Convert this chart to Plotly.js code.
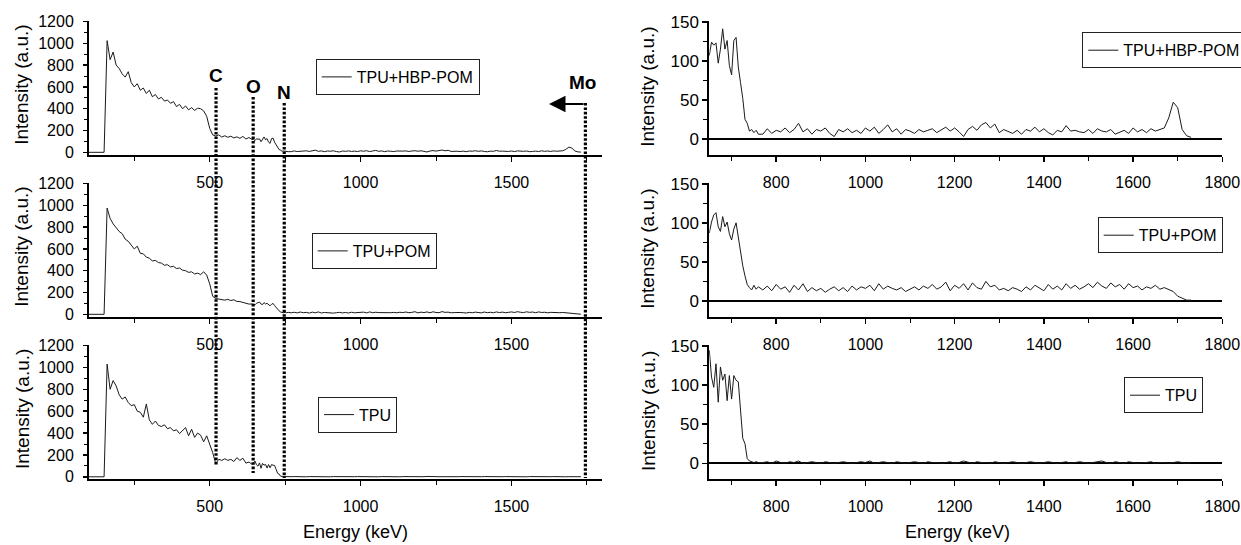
<!DOCTYPE html>
<html><head><meta charset="utf-8">
<script src="https://cdn.plot.ly/plotly-3.0.1.min.js"></script>
<style>html,body{margin:0;padding:0;background:#fff}#chart{width:1241px;height:545px}</style>
</head><body><div id="chart"></div>
<script>
// ---------- DATA (energy in keV, intensity in a.u.) ----------
const E_lo = [100,110,120,130,140,150,160,170,180,190,200,210,220,230,240,250,260,270,280,290,300,310,320,330,340,350,360,370,380,390,400,410,420,430,440,450,460,470,480,490,500,510,520,530,540,550,560,570,580,590,600,610,620,630,640];
const E_mid = [645,650,655,660,665,670,675,680,685,690,695,700,705,710,715,720,725,730,735,740,745,750,755,760];
const E_hi = [770,780,790,800,810,820,830,840,850,860,870,880,890,900,910,920,930,940,950,960,970,980,990,1000,1010,1020,1030,1040,1050,1060,1070,1080,1090,1100,1110,1120,1130,1140,1150,1160,1170,1180,1190,1200,1210,1220,1230,1240,1250,1260,1270,1280,1290,1300,1310,1320,1330,1340,1350,1360,1370,1380,1390,1400,1410,1420,1430,1440,1450,1460,1470,1480,1490,1500,1510,1520,1530,1540,1550,1560,1570,1580,1590,1600,1610,1620,1630,1640,1650,1660,1670,1680,1690,1700,1710,1720,1730];

const hbp_lo = [0,0,0,0,0,0,1025,850,920,800,770,720,690,740,640,600,630,570,590,540,570,510,530,490,505,470,480,450,465,420,440,400,425,390,410,385,405,400,380,330,220,160,150,160,140,152,138,148,132,142,128,146,122,136,118];
const hbp_mid = [118,107,124,120,123,97,115,141,115,126,94,82,126,130,92,72,52,25,20,10,12,8,11,6];
const hbp_hi = [6,13,7,11,9,14,8,12,20,9, 13,6,12,10,14,7,3,12,9,13, 8,11,7,14,10,15,7,12,18,9, 13,6,12,10,7,12,9,11,13,8, 12,15,10,14,9,3,12,16,11,18, 21,14,19,8,12,10,7,11,6,12, 10,15,9,13,8,5,11,9,17,10, 11,9,8,12,7,13,10,9,12,6, 8,11,7,14,9,12,8,13,10,12, 14,27,47,40,12,4,2];

const pom_lo = [0,0,0,0,0,0,975,880,830,790,760,740,690,670,640,600,625,560,555,525,515,490,495,475,470,450,455,435,440,420,425,405,400,385,390,370,378,365,390,360,280,165,145,140,135,130,138,126,134,118,117,108,104,94,95];
const pom_mid = [92,87,101,110,113,95,89,108,95,101,86,78,92,100,80,62,45,32,21,17,14,20,15,18];
const pom_hi = [14,19,13,21,15,18,11,20,14,22, 12,17,13,16,11,15,18,13,17,12, 19,14,18,16,20,13,22,15,19,16, 14,17,12,15,18,14,19,16,21,15, 18,24,13,20,16,22,14,23,17,15, 25,18,20,14,16,13,17,15,12,18, 14,20,16,13,21,15,19,14,22,16, 20,15,18,22,17,24,19,16,23,18, 21,15,22,17,19,14,18,16,20,15, 17,14,12,6,3,1,1];

const tpu_lo = [0,0,0,0,0,0,1030,800,880,830,750,710,730,680,650,660,600,590,545,665,520,480,510,470,460,475,440,450,420,430,395,420,450,375,435,360,400,380,320,375,300,220,120,160,150,165,150,160,140,175,150,170,125,135,115];
const tpu_mid = [125,144,110,97,127,78,123,106,114,80,112,82,112,106,104,68,32,25,6,3,2,1,2,1];
const tpu_hi = [1,2,0,3,1,0,2,1,3,0, 1,2,1,0,2,1,0,1,2,1, 0,1,2,1,3,0,1,2,1,0, 2,1,0,1,2,1,0,2,1,1, 0,1,2,0,1,3,1,0,2,1, 1,0,2,1,0,1,2,1,0,1, 2,1,0,1,2,1,0,1,2,0, 1,2,1,0,1,2,3,1,0,2, 1,0,2,1,0,1,1,2,0,1, 1,0,1,2,1,0,1];

const seriesNames = ['TPU+HBP-POM','TPU+POM','TPU'];
const edgeLabels = ['C','O','N','Mo'];
const edgeEnergies = [521,644,747,1745];

// ---------- BUILD ----------
const energy = E_lo.concat(E_mid, E_hi);
const seriesY = [hbp_lo.concat(hbp_mid,hbp_hi), pom_lo.concat(pom_mid,pom_hi), tpu_lo.concat(tpu_mid,tpu_hi)];

const W=1241,H=545;
const px=x=>x/W, py=y=>1-y/H;
const FONT='"Liberation Sans", Arial, sans-serif';
const rows=[{top:21,bot:154.5},{top:183,bot:316.5},{top:345,bot:479}];
const leftDom=[px(89),px(602)], rightDom=[px(709.3),px(1222.3)];

const legPos=[[315.7,59],[311.7,233],[318,396.7],[1082.3,32.3],[1097.7,217.3],[1124,377.3]];

const traces=[]; const layout={
  width:W,height:H,margin:{l:0,r:0,t:0,b:0,autoexpand:false},
  paper_bgcolor:'#fff',plot_bgcolor:'#fff',
  font:{family:FONT,size:16,color:'#000'},
  annotations:[],shapes:[]
};
function axStyle(extra){return Object.assign({showgrid:false,showline:true,linecolor:'#000',linewidth:2,ticks:'outside',tickcolor:'#000',tickwidth:1.5,ticklen:5,tickfont:{family:FONT,size:16,color:'#000'},zeroline:false,fixedrange:true},extra);}

for(let i=0;i<3;i++){
  const dom=[py(rows[i].bot),py(rows[i].top)];
  const li=i+1, ri=i+4;
  const lk=li===1?'':li, rk=ri;
  traces.push({x:energy,y:seriesY[i],type:'scatter',mode:'lines',name:seriesNames[i],line:{color:'#1a1a1a',width:1},xaxis:'x'+lk,yaxis:'y'+lk,legend:li===1?'legend':'legend'+li,showlegend:true,hoverinfo:'skip'});
  traces.push({x:energy,y:seriesY[i],type:'scatter',mode:'lines',name:seriesNames[i],line:{color:'#1a1a1a',width:1},xaxis:'x'+rk,yaxis:'y'+rk,legend:'legend'+ri,showlegend:true,hoverinfo:'skip'});
  layout['xaxis'+lk]=axStyle({domain:leftDom,anchor:'y'+lk,range:[100,1800],tick0:0,dtick:500,ticklabelstandoff:7,minor:{dtick:250,ticks:'outside',ticklen:4,tickcolor:'#000',tickwidth:1}});
  layout['yaxis'+lk]=axStyle({domain:dom,anchor:'x'+lk,range:[-20,1205],tick0:0,dtick:200,ticklen:4,ticklabelstandoff:6,minor:{dtick:100,ticks:'outside',ticklen:3,tickcolor:'#000',tickwidth:1}});
  layout['xaxis'+rk]=axStyle({domain:rightDom,anchor:'y'+rk,range:[650,1800],tick0:0,dtick:200,ticklabelstandoff:7,minor:{dtick:100,ticks:'outside',ticklen:4,tickcolor:'#000',tickwidth:1}});
  layout['yaxis'+rk]=axStyle({domain:dom,anchor:'x'+rk,range:[-20,151],tick0:0,dtick:50,ticklen:5,zeroline:true,zerolinecolor:'#000',zerolinewidth:2,tickfont:{family:FONT,size:17,color:'#000'},minor:{dtick:25,ticks:'outside',ticklen:4,tickcolor:'#000',tickwidth:1}});
  layout.annotations.push({text:'Intensity (a.u.)',textangle:-90,xref:'paper',yref:'paper',x:px(22),y:py((rows[i].top+rows[i].bot)/2-3),xanchor:'center',yanchor:'middle',showarrow:false,font:{family:FONT,size:19}});
  layout.annotations.push({text:'Intensity (a.u.)',textangle:-90,xref:'paper',yref:'paper',x:px(648),y:py((rows[i].top+rows[i].bot)/2-1),xanchor:'center',yanchor:'middle',showarrow:false,font:{family:FONT,size:19}});
}
for(let k=0;k<6;k++){
  const key=k===0?'legend':'legend'+(k+1);
  layout[key]={x:px(legPos[k][0]),y:py(legPos[k][1]),xanchor:'left',yanchor:'top',xref:'paper',yref:'paper',bgcolor:'rgba(255,255,255,0)',bordercolor:'#222',borderwidth:1,font:{family:FONT,size:16,color:'#000'}};
}
layout.annotations.push({text:'Energy (keV)',xref:'paper',yref:'paper',x:px(355),y:py(531.7),xanchor:'center',yanchor:'middle',showarrow:false,font:{family:FONT,size:18}});
layout.annotations.push({text:'Energy (keV)',xref:'paper',yref:'paper',x:px(957.5),y:py(531.7),xanchor:'center',yanchor:'middle',showarrow:false,font:{family:FONT,size:18}});

const lineTops=[88,97,103,103], lineBots=[466,473,478,478];
const labelPos=[[216,75],[253,86],[284,92],[582,82]];
for(let k=0;k<4;k++){
  layout.shapes.push({type:'line',xref:'x',yref:'paper',x0:edgeEnergies[k],x1:edgeEnergies[k],y0:py(lineTops[k]),y1:py(lineBots[k]),line:{color:'#000',width:3.2,dash:'2.6px,1.8px'}});
  layout.annotations.push({text:'<b>'+edgeLabels[k]+'</b>',xref:'paper',yref:'paper',x:px(labelPos[k][0]),y:py(labelPos[k][1]),xanchor:'center',yanchor:'middle',showarrow:false,font:{family:FONT,size:19,color:'#000'}});
}
layout.annotations.push({text:'',xref:'paper',yref:'paper',x:px(549),y:py(104),ax:36,ay:0,showarrow:true,arrowhead:2,arrowsize:1.5,arrowwidth:2.2,arrowcolor:'#000',standoff:0});

Plotly.newPlot('chart',traces,layout,{staticPlot:true,displayModeBar:false});
</script></body></html>
